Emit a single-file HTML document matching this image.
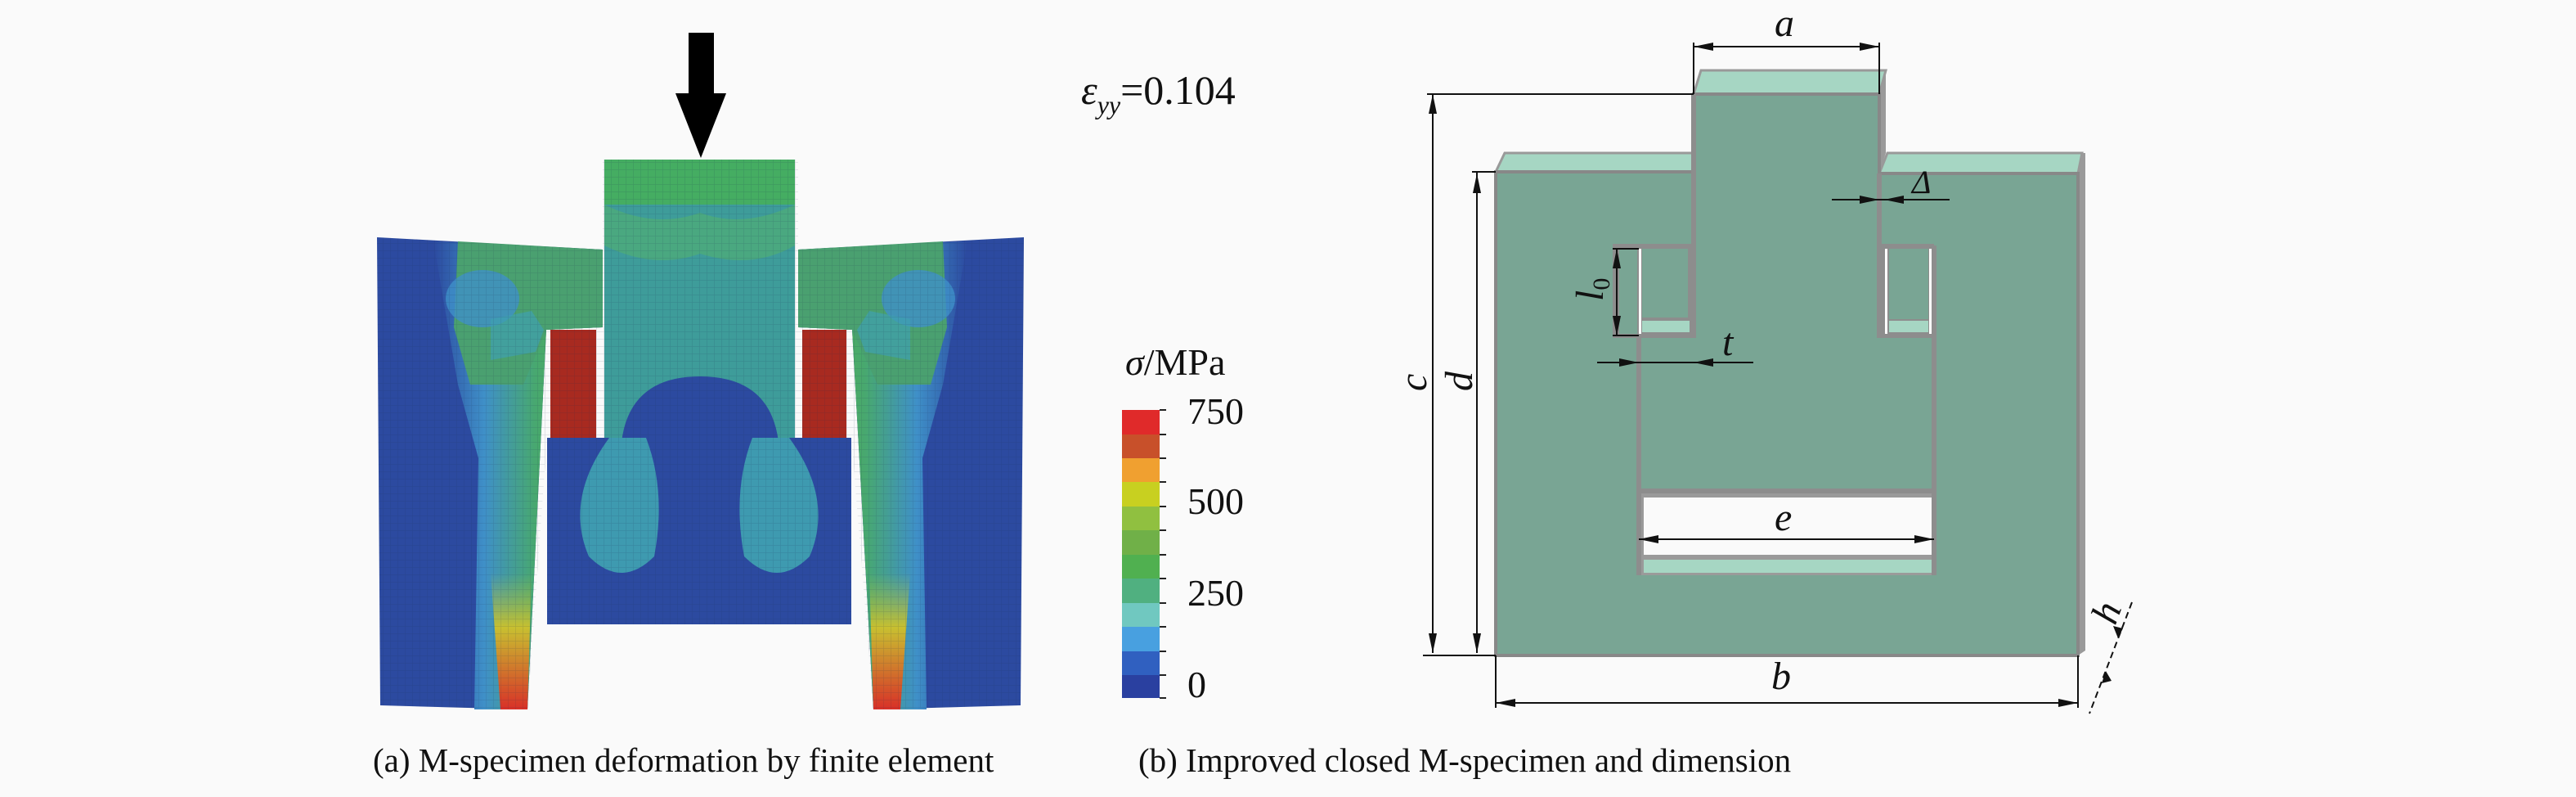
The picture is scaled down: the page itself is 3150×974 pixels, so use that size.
<!DOCTYPE html>
<html><head><meta charset="utf-8"><style>
html,body{margin:0;padding:0;background:#fafafa;}
svg{display:block;}
text{font-family:"Liberation Serif",serif;fill:#111;}
</style></head><body>
<svg width="3150" height="974" viewBox="0 0 3150 974" xmlns="http://www.w3.org/2000/svg">
<defs>
<pattern id="mesh" width="9" height="9" patternUnits="userSpaceOnUse">
<path d="M0 0H9M0 0V9" stroke="#1a2a50" stroke-width="1.2" opacity="0.35" fill="none"/>
</pattern>
<linearGradient id="bandL" x1="0" x2="1" y1="0" y2="0">
<stop offset="0" stop-color="#2c4aa0"/><stop offset="0.3" stop-color="#3f90c8"/>
<stop offset="0.6" stop-color="#48a870"/><stop offset="0.85" stop-color="#50b050"/><stop offset="1" stop-color="#3fa090"/>
</linearGradient>
<linearGradient id="bandR" x1="1" x2="0" y1="0" y2="0">
<stop offset="0" stop-color="#2c4aa0"/><stop offset="0.3" stop-color="#3f90c8"/>
<stop offset="0.6" stop-color="#48a870"/><stop offset="0.85" stop-color="#50b050"/><stop offset="1" stop-color="#3fa090"/>
</linearGradient>
<linearGradient id="redg" x1="0" x2="0" y1="0" y2="1">
<stop offset="0" stop-color="#a0c040" stop-opacity="0"/><stop offset="0.4" stop-color="#c8c030"/><stop offset="1" stop-color="#d83028"/>
</linearGradient>
</defs>

<!-- (a) arrow -->
<rect x="842" y="40" width="31" height="80" fill="#000"/>
<polygon points="826,114 888,114 857,193" fill="#000"/>
<text x="1322" y="127" font-size="50"><tspan font-style="italic">ε</tspan><tspan font-style="italic" font-size="32" dy="12">yy</tspan><tspan dy="-12">=0.104</tspan></text>

<!-- left leg -->
<polygon points="461,290 737,305 737,400 668,403 645,867 465,862" fill="#2c4aa0"/>
<polygon points="530,295 737,305 737,400 668,403 645,867 580,867 585,560 560,470" fill="url(#bandL)"/>
<polygon points="560,295 737,305 737,400 668,403 640,470 575,470 555,400" fill="#4aa070"/>
<ellipse cx="590" cy="365" rx="45" ry="35" fill="#3f90c8" opacity="0.8"/>
<polygon points="600,390 650,380 665,403 655,430 600,440" fill="#3fa0b0" opacity="0.7"/>
<polygon points="600,700 650,700 645,867 612,867" fill="url(#redg)"/>
<!-- right leg -->
<polygon points="1252,290 976,305 976,400 1042,403 1068,867 1248,862" fill="#2c4aa0"/>
<polygon points="1183,295 976,305 976,400 1042,403 1068,867 1133,867 1128,560 1153,470" fill="url(#bandR)"/>
<polygon points="1153,295 976,305 976,400 1042,403 1073,470 1138,470 1158,400" fill="#4aa070"/>
<ellipse cx="1123" cy="365" rx="45" ry="35" fill="#3f90c8" opacity="0.8"/>
<polygon points="1113,390 1063,380 1048,403 1058,430 1113,440" fill="#3fa0b0" opacity="0.7"/>
<polygon points="1113,700 1063,700 1068,867 1101,867" fill="url(#redg)"/>
<!-- center -->
<rect x="739" y="195" width="233" height="345" fill="#3e9c9a"/>
<rect x="739" y="195" width="233" height="55" fill="#45ad62"/>
<path d="M739 250 Q800 280 856 260 Q910 280 972 250 V300 Q920 330 856 310 Q800 330 739 300Z" fill="#4aa880"/>
<path d="M760 540 Q770 460 856 460 Q942 460 952 540Z" fill="#2c4aa0"/>
<!-- bottom block -->
<rect x="669" y="535" width="372" height="228" fill="#2c4aa0"/>
<path d="M745 535 Q690 610 720 680 Q760 720 800 680 Q815 600 790 535Z" fill="#3e9ab0"/>
<path d="M965 535 Q1020 610 990 680 Q950 720 910 680 Q895 600 920 535Z" fill="#3e9ab0"/>
<!-- red pillars -->
<rect x="673" y="403" width="56" height="132" fill="#a82a20"/>
<rect x="981" y="403" width="54" height="132" fill="#a82a20"/>
<!-- mesh overlay -->
<polygon points="461,290 737,305 737,195 976,195 976,305 1252,290 1248,862 1068,867 1041,535 1041,763 669,763 669,535 645,867 465,862" fill="url(#mesh)" opacity="0.5"/>

<!-- colorbar -->
<g>
<rect x="1372" y="501" width="46" height="30" fill="#e02a2a"/>
<rect x="1372" y="531" width="46" height="29" fill="#c8502a"/>
<rect x="1372" y="560" width="46" height="29" fill="#f0a030"/>
<rect x="1372" y="589" width="46" height="30" fill="#c8d020"/>
<rect x="1372" y="619" width="46" height="29" fill="#90c040"/>
<rect x="1372" y="648" width="46" height="30" fill="#70b048"/>
<rect x="1372" y="678" width="46" height="29" fill="#50b050"/>
<rect x="1372" y="707" width="46" height="30" fill="#50b080"/>
<rect x="1372" y="737" width="46" height="29" fill="#70c8c0"/>
<rect x="1372" y="766" width="46" height="30" fill="#48a0e0"/>
<rect x="1372" y="796" width="46" height="29" fill="#3060c0"/>
<rect x="1372" y="825" width="46" height="28" fill="#2a40a0"/>
<path d="M1418 501h8M1418 531h8M1418 560h8M1418 589h8M1418 619h8M1418 648h8M1418 678h8M1418 707h8M1418 737h8M1418 766h8M1418 796h8M1418 825h8M1418 853h8" stroke="#222" stroke-width="2"/>
</g>
<text x="1376" y="458" font-size="46"><tspan font-style="italic">σ</tspan>/MPa</text>
<text x="1452" y="518" font-size="46">750</text>
<text x="1452" y="628" font-size="46">500</text>
<text x="1452" y="740" font-size="46">250</text>
<text x="1452" y="852" font-size="46">0</text>

<text x="456" y="943" font-size="41">(a) M-specimen deformation by finite element</text>
<text x="1392" y="943" font-size="41">(b) Improved closed M-specimen and dimension</text>

<!-- (b) body -->
<g>
<polygon points="1829,210 1840,187 2071,187 2071,210" fill="#a6d6c3" stroke="#999" stroke-width="3"/>
<polygon points="2298,212 2308,187 2546,187 2541,212" fill="#a6d6c3" stroke="#999" stroke-width="3"/>
<polygon points="2071,115 2080,86 2306,86 2298,115" fill="#a6d6c3" stroke="#999" stroke-width="3"/>
<polygon points="2541,212 2546,187 2550,187 2550,795 2541,801" fill="#9a9a9a"/>
<polygon points="2298,115 2306,86 2306,187 2298,212" fill="#9a9a9a"/>
<path d="M1829 210 H2071 V115 H2298 V212 H2541 V801 H1829Z" fill="#79a594" stroke="#888" stroke-width="4"/>
<rect x="2004" y="603" width="361" height="100" fill="#9a9a9a"/>
<rect x="2010" y="608" width="355" height="70" fill="#fafafa"/>
<rect x="2010" y="684" width="355" height="16" fill="#a6d6c3"/>
<path d="M2004 413 V703 M2365 300 V703 M2004 600 H2365" stroke="#8d8d8d" stroke-width="6" fill="none"/>
<path d="M2071 115 V413 M2298 212 V413" stroke="#8d8d8d" stroke-width="6" fill="none"/>
<rect x="1972" y="298" width="99" height="115" fill="#8d8d8d"/>
<rect x="1980" y="304" width="22" height="104" fill="#79a594"/>
<rect x="2008" y="304" width="56" height="84" fill="#79a594"/>
<rect x="2008" y="392" width="58" height="14" fill="#a6d6c3"/>
<rect x="2004" y="304" width="3" height="104" fill="#fff"/>
<rect x="2301" y="298" width="64" height="115" fill="#8d8d8d"/>
<rect x="2310" y="304" width="48" height="86" fill="#79a594"/>
<rect x="2310" y="392" width="48" height="14" fill="#a6d6c3"/>
<rect x="2305" y="304" width="3" height="104" fill="#fff"/>
<rect x="2359" y="304" width="3" height="104" fill="#fff"/>
</g>

<!-- dimensions -->
<g stroke="#111" stroke-width="2" fill="none">
<path d="M2071 52V115 M2298 52V115 M2071 57H2298"/>
<path d="M1745 115H2071 M1752 115V798 M1740 801H1829"/>
<path d="M1800 210H1829 M1806 210V798"/>
<path d="M1829 801V865 M2541 801V865 M1829 859H2541"/>
<path d="M2004 659H2365"/>
<path d="M2240 244H2384"/>
<path d="M1953 443H2144"/>
<path d="M1977 304V410 M1972 304H2004 M1972 410H2004"/>
<path d="M2607 736L2555 872" stroke-dasharray="8,5"/>
</g>
<g fill="#111">
<polygon points="2071,57 2095,52 2095,62"/><polygon points="2298,57 2274,52 2274,62"/>
<polygon points="1752,115 1747,139 1757,139"/><polygon points="1752,798 1747,774 1757,774"/>
<polygon points="1806,212 1801,236 1811,236"/><polygon points="1806,798 1801,774 1811,774"/>
<polygon points="1829,859 1853,854 1853,864"/><polygon points="2541,859 2517,854 2517,864"/>
<polygon points="2004,659 2028,654 2028,664"/><polygon points="2365,659 2341,654 2341,664"/>
<polygon points="2298,244 2274,239 2274,249"/><polygon points="2304,244 2328,239 2328,249"/>
<polygon points="2004,443 1980,438 1980,448"/><polygon points="2071,443 2095,438 2095,448"/>
<polygon points="1977,304 1972,328 1982,328"/><polygon points="1977,410 1972,386 1982,386"/>
<polygon points="2590,780 2584,765 2596,768"/><polygon points="2575,820 2570,835 2582,832"/>
</g>
<g font-style="italic" font-size="48">
<text x="2170" y="44">a</text>
<text x="2166" y="842">b</text>
<text x="2170" y="648">e</text>
<text x="2338" y="236" font-size="40">Δ</text>
<text x="2106" y="434">t</text>
<text x="2566" y="760" transform="rotate(-70 2580 748)">h</text>
<text transform="translate(1744 478) rotate(-90)">c</text>
<text transform="translate(1800 478) rotate(-90)">d</text>
<text transform="translate(1960 368) rotate(-90)">l<tspan font-style="normal" font-size="30" dy="8">0</tspan></text>
</g>
</svg>
</body></html>
